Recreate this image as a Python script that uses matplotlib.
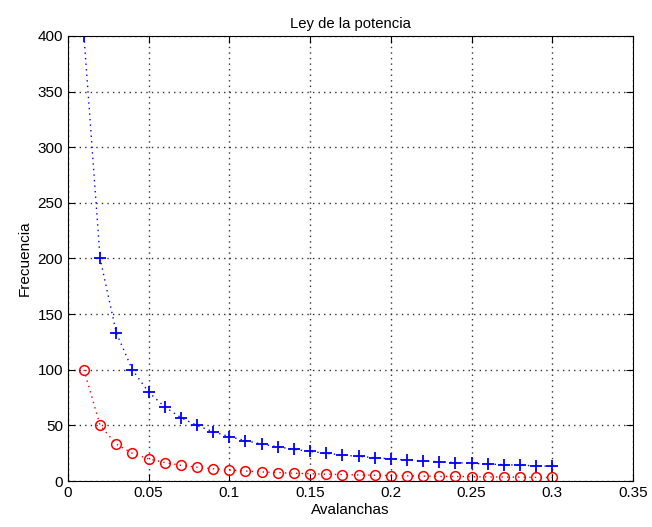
import matplotlib
matplotlib.use('Agg')
import matplotlib.pyplot as plt

plt.rcParams['font.family'] = ['Liberation Sans', 'DejaVu Sans']

avalanchas = [0.01, 0.02, 0.03, 0.04, 0.05, 0.06, 0.07, 0.08, 0.09, 0.10,
              0.11, 0.12, 0.13, 0.14, 0.15, 0.16, 0.17, 0.18, 0.19, 0.20,
              0.21, 0.22, 0.23, 0.24, 0.25, 0.26, 0.27, 0.28, 0.29, 0.30]
frec_azul = [400, 200, 133.3, 100, 80, 66.7, 57.1, 50, 44.4, 40,
             36.4, 33.3, 30.8, 28.6, 26.7, 25, 23.5, 22.2, 21.1, 20,
             19.0, 18.2, 17.4, 16.7, 16, 15.4, 14.8, 14.3, 13.8, 13.3]
frec_roja = [100, 50, 33.3, 25, 20, 16.7, 14.3, 12.5, 11.1, 10,
             9.1, 8.3, 7.7, 7.1, 6.7, 6.25, 5.9, 5.6, 5.3, 5,
             4.8, 4.5, 4.3, 4.2, 4, 3.8, 3.7, 3.6, 3.4, 3.3]

fig = plt.figure(figsize=(6.52, 5.27), dpi=100)
ax = fig.add_axes([0.104, 0.087, 0.867, 0.845])

ax.plot(avalanchas, frec_azul, color='b', linestyle=(0, (1, 3)), marker='+',
        markersize=8, markeredgewidth=1.3, linewidth=1)
ax.plot(avalanchas, frec_roja, color='r', linestyle=(0, (1, 3)), marker='o',
        markersize=7, markerfacecolor='none', markeredgewidth=1.1, linewidth=1)

ax.set_xlim(0, 0.35)
ax.set_ylim(0, 400)
ax.set_xticks([0, 0.05, 0.1, 0.15, 0.2, 0.25, 0.3, 0.35])
ax.set_xticklabels(['0', '0.05', '0.1', '0.15', '0.2', '0.25', '0.3', '0.35'])
ax.set_yticks(range(0, 401, 50))
ax.grid(True, color='#333333', linestyle=(0, (1, 3)), linewidth=1)
ax.tick_params(direction='in', top=True, right=True, labelsize=11, length=5)

ax.set_title('Ley de la potencia', fontsize=10.7)
ax.set_xlabel('Avalanchas', fontsize=11, labelpad=2)
ax.set_ylabel('Frecuencia', fontsize=11)

fig.savefig('out.png', dpi=100)
